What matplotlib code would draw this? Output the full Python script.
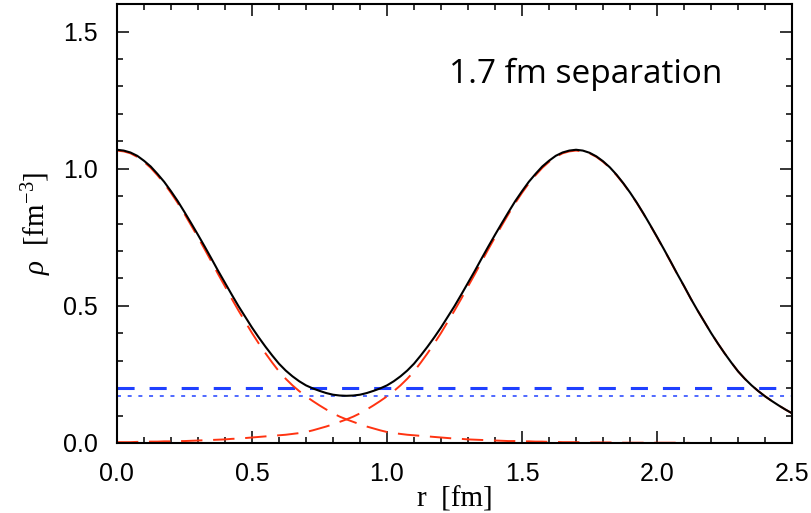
import numpy as np
import matplotlib
matplotlib.use("Agg")
import matplotlib.pyplot as plt
from matplotlib.ticker import MultipleLocator, FormatStrFormatter

# radius grid [fm], 0.025 fm steps
r = np.linspace(0.0, 2.5, 101)

# nucleon centred at r = 0
rho_left = [1.066, 1.063, 1.056, 1.043, 1.025, 1.003, 0.976, 0.946, 0.912, 0.875,
            0.835, 0.793, 0.750, 0.706, 0.661, 0.615, 0.571, 0.526, 0.483, 0.442,
            0.401, 0.363, 0.327, 0.293, 0.261, 0.234, 0.210, 0.189, 0.170, 0.153,
            0.137, 0.122, 0.108, 0.096, 0.086, 0.077, 0.068, 0.060, 0.053, 0.046,
            0.040, 0.036, 0.033, 0.030, 0.028, 0.026, 0.024, 0.022, 0.020, 0.018,
            0.016, 0.015, 0.013, 0.012, 0.011, 0.010, 0.009, 0.008, 0.007, 0.007,
            0.006, 0.006, 0.005, 0.005, 0.004, 0.004, 0.003, 0.003, 0.003, 0.003,
            0.002, 0.002, 0.002, 0.002, 0.002, 0.001, 0.001, 0.001, 0.001, 0.001,
            0.001, 0.001, 0.001, 0.001, 0.001, 0.000, 0.000, 0.000, 0.000, 0.000,
            0.000, 0.000, 0.000, 0.000, 0.000, 0.000, 0.000, 0.000, 0.000, 0.000,
            0.000]

# nucleon centred at r = 1.7
rho_right = [0.003, 0.003, 0.003, 0.004, 0.004, 0.005, 0.005, 0.006, 0.006, 0.007,
             0.007, 0.008, 0.009, 0.010, 0.011, 0.012, 0.013, 0.015, 0.016, 0.018,
             0.020, 0.022, 0.024, 0.026, 0.028, 0.030, 0.033, 0.036, 0.040, 0.046,
             0.053, 0.060, 0.068, 0.077, 0.086, 0.096, 0.108, 0.122, 0.137, 0.153,
             0.170, 0.189, 0.210, 0.234, 0.261, 0.293, 0.327, 0.363, 0.401, 0.442,
             0.483, 0.526, 0.571, 0.615, 0.661, 0.706, 0.750, 0.793, 0.835, 0.875,
             0.912, 0.946, 0.976, 1.003, 1.025, 1.043, 1.056, 1.063, 1.066, 1.063,
             1.056, 1.043, 1.025, 1.003, 0.976, 0.946, 0.912, 0.875, 0.835, 0.793,
             0.750, 0.706, 0.661, 0.615, 0.571, 0.526, 0.483, 0.442, 0.401, 0.363,
             0.327, 0.293, 0.261, 0.234, 0.210, 0.189, 0.170, 0.153, 0.137, 0.122,
             0.108]

# total density
rho_total = [1.069, 1.066, 1.059, 1.047, 1.029, 1.008, 0.981, 0.952, 0.918, 0.882,
             0.842, 0.801, 0.759, 0.716, 0.672, 0.627, 0.584, 0.541, 0.499, 0.460,
             0.421, 0.385, 0.351, 0.319, 0.289, 0.264, 0.243, 0.225, 0.210, 0.199,
             0.190, 0.182, 0.176, 0.173, 0.172, 0.173, 0.176, 0.182, 0.190, 0.199,
             0.210, 0.225, 0.243, 0.264, 0.289, 0.319, 0.351, 0.385, 0.421, 0.460,
             0.499, 0.541, 0.584, 0.627, 0.672, 0.716, 0.759, 0.801, 0.842, 0.882,
             0.918, 0.952, 0.981, 1.008, 1.029, 1.047, 1.059, 1.066, 1.069, 1.066,
             1.058, 1.045, 1.027, 1.005, 0.978, 0.947, 0.913, 0.876, 0.836, 0.794,
             0.751, 0.707, 0.662, 0.616, 0.572, 0.526, 0.483, 0.442, 0.401, 0.363,
             0.327, 0.293, 0.261, 0.234, 0.210, 0.189, 0.170, 0.153, 0.137, 0.122,
             0.108]

rho_dashed = 0.20
rho_dotted = 0.17

plt.rcParams['font.family'] = ['Liberation Serif', 'DejaVu Serif']
plt.rcParams['mathtext.fontset'] = 'custom'
plt.rcParams['mathtext.rm'] = 'Liberation Serif'
plt.rcParams['mathtext.it'] = 'Liberation Serif:italic'

fig = plt.figure(figsize=(8.12, 5.13), dpi=100)
ax = fig.add_axes([0.144, 0.1365, 0.8315, 0.8555])

red = '#ff3311'
blue = '#1f40ff'

ax.axhline(rho_dashed, color=blue, lw=2.2, dashes=(5.6, 4.9))
ax.axhline(rho_dotted, color=blue, lw=1.1, dashes=(2.6, 4.4))
ax.plot(r, rho_left, color=red, lw=1.4, dashes=(11, 5.5))
ax.plot(r, rho_right, color=red, lw=1.4, dashes=(11, 5.5))
ax.plot(r, rho_total, color='black', lw=1.5)

ax.set_xlim(0, 2.5)
ax.set_ylim(0, 1.6)
ax.xaxis.set_major_locator(MultipleLocator(0.5))
ax.xaxis.set_minor_locator(MultipleLocator(0.1))
ax.yaxis.set_major_locator(MultipleLocator(0.5))
ax.yaxis.set_minor_locator(MultipleLocator(0.1))
ax.xaxis.set_major_formatter(FormatStrFormatter('%.1f'))
ax.yaxis.set_major_formatter(FormatStrFormatter('%.1f'))

ax.tick_params(which='both', direction='in', top=True, right=True, width=1.1)
ax.tick_params(which='major', length=8.5)
ax.tick_params(which='minor', length=4.5)
ax.tick_params(axis='x', which='major', pad=14)
ax.tick_params(axis='y', which='major', pad=14)
for lab in ax.get_xticklabels() + ax.get_yticklabels():
    lab.set_family(['Liberation Sans', 'DejaVu Sans'])
    lab.set_fontsize(18)
for s in ax.spines.values():
    s.set_linewidth(1.5)

ax.set_xlabel('r  [fm]', fontsize=21, labelpad=0)
ax.set_ylabel(r'$\rho$  [fm$^{-3}$]', fontsize=21, labelpad=6)

ax.text(0.695, 0.84, '1.7 fm separation', transform=ax.transAxes,
        ha='center', va='center', fontsize=24, family=['Open Sans', 'DejaVu Sans'])

fig.savefig('out.png', dpi=100)
